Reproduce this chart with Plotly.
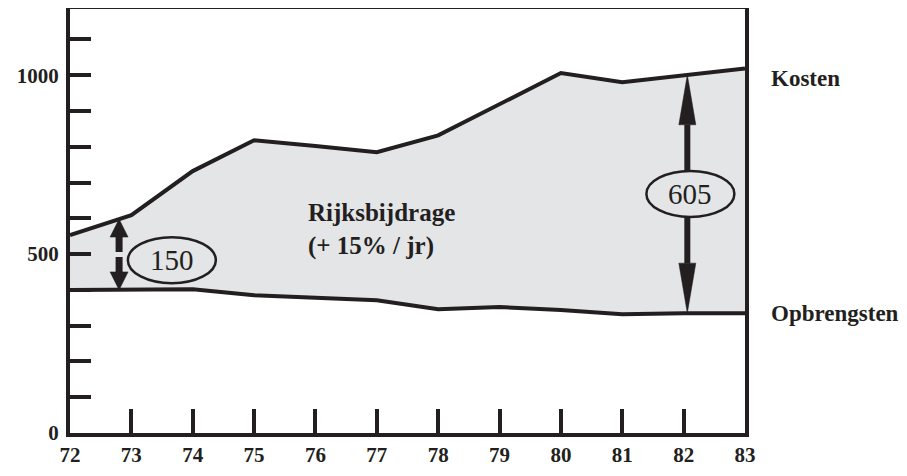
import plotly.graph_objects as go

# ---- data ----
years = [72, 73, 74, 75, 76, 77, 78, 79, 80, 81, 82, 83]
kosten = [553, 609, 732, 818, 802, 785, 832, 920, 1006, 980, 1000, 1019]
opbrengsten = [400, 400, 402, 385, 377, 371, 346, 352, 344, 332, 335, 335]
x_tick_labels = ["72", "73", "74", "75", "76", "77", "78", "79", "80", "81", "82", "83"]
y_tick_vals = [0, 100, 200, 300, 400, 500, 600, 700, 800, 900, 1000, 1100]
y_tick_labels = ["0", "", "", "", "", "500", "", "", "", "", "1000", ""]
diff_labels = ["150", "605"]
series_labels = ["Kosten", "Opbrengsten"]
area_label = ["Rijksbijdrage", "(+ 15% / jr)"]

INK = "#231f20"
FILL = "#e4e5e7"
FONT = "Liberation Serif"

OFF = 8  # default page body margin
W, H = 907 - 2 * OFF, 476 - 2 * OFF
PL, PR, PT, PB = 70 - OFF, 745 - OFF, 9 - OFF, 433 - OFF  # plot box in figure px
ML, MR, MT, MB = PL, W - PR, PT, H - PB
XR = [72, 83]
YR = [0, 1185]
px_x = (PR - PL) / (XR[1] - XR[0])
px_y = (PB - PT) / (YR[1] - YR[0])


def interp(xs, ys, x):
    for i in range(len(xs) - 1):
        if xs[i] <= x <= xs[i + 1]:
            t = (x - xs[i]) / (xs[i + 1] - xs[i])
            return ys[i] + t * (ys[i + 1] - ys[i])
    return ys[-1]


fig = go.Figure()
fig.add_trace(go.Scatter(x=years, y=opbrengsten, mode="lines",
                         line=dict(color=INK, width=4), hoverinfo="skip"))
fig.add_trace(go.Scatter(x=years, y=kosten, mode="lines", fill="tonexty",
                         fillcolor=FILL, line=dict(color=INK, width=4),
                         hoverinfo="skip"))

shapes = []


def head(x, ytip, direction, hw_px, hh_px):
    dx = hw_px / 2 / px_x
    dy = hh_px / px_y * direction
    base = ytip - dy
    return dict(type="path", path=f"M {x-dx} {base} L {x} {ytip} L {x+dx} {base} Z",
                fillcolor=INK, line=dict(color=INK, width=0.5), layer="above")


def shaft(x, y0, y1, w):
    return dict(type="line", x0=x, x1=x, y0=y0, y1=y1,
                line=dict(color=INK, width=w), layer="above")


# arrow at ~73 (150)
ax1 = 72.8
top1 = interp(years, kosten, ax1)
bot1 = interp(years, opbrengsten, ax1)
mid1 = (top1 + bot1) / 2
gap = 2.5 / px_y
hh1 = 18
shapes.append(shaft(ax1, top1 - hh1 / px_y + 1, mid1 + gap, 7))
shapes.append(shaft(ax1, mid1 - gap, bot1 + hh1 / px_y - 1, 7))
shapes.append(head(ax1, top1, 1, 18, hh1))
shapes.append(head(ax1, bot1, -1, 18, hh1))

# arrow at ~82 (605)
ax2 = 82.06
top2 = interp(years, kosten, ax2)
bot2 = interp(years, opbrengsten, ax2)
mid2 = (top2 + bot2) / 2
hh2 = 50
shapes.append(shaft(ax2, top2 - hh2 / px_y + 1, bot2 + hh2 / px_y - 1, 6))
shapes.append(head(ax2, top2, 1, 17, hh2))
shapes.append(head(ax2, bot2, -1, 17, hh2))


def ellipse(x, y):
    return dict(type="circle", xref="x", yref="y", xsizemode="pixel", ysizemode="pixel",
                xanchor=x, yanchor=y, x0=-44, x1=44, y0=-23, y1=23,
                fillcolor=FILL, line=dict(color=INK, width=2.5), layer="above")


e1 = (73.66, 483)
e2 = (ax2 + 0.05, mid2)
shapes.append(ellipse(*e1))
shapes.append(ellipse(*e2))


def paper_x(sx):
    return (sx - OFF - PL) / (PR - PL)


def paper_y(sy):
    return (PB - (sy - OFF)) / (PB - PT)


annotations = [
    dict(x=e1[0], y=e1[1], text=diff_labels[0], showarrow=False,
         font=dict(family=FONT, size=29, color=INK)),
    dict(x=e2[0], y=e2[1], text=diff_labels[1], showarrow=False,
         font=dict(family=FONT, size=29, color=INK)),
    dict(x=years[-1], y=kosten[-1], text="<b>" + series_labels[0] + "</b>", showarrow=False,
         xanchor="left", yanchor="middle", xshift=24, yshift=-10,
         font=dict(family=FONT, size=23, color=INK)),
    dict(x=years[-1], y=opbrengsten[-1], text="<b>" + series_labels[1] + "</b>", showarrow=False,
         xanchor="left", yanchor="middle", xshift=24, yshift=0,
         font=dict(family=FONT, size=23, color=INK)),
    dict(xref="paper", yref="paper", x=paper_x(306), y=paper_y(212),
         text="<b>" + area_label[0] + "</b>", showarrow=False, xanchor="left", yanchor="middle",
         font=dict(family=FONT, size=25, color=INK)),
    dict(xref="paper", yref="paper", x=paper_x(306), y=paper_y(246),
         text="<b>" + area_label[1] + "</b>", showarrow=False, xanchor="left", yanchor="middle",
         font=dict(family=FONT, size=25, color=INK)),
]

tickfont = dict(family=FONT, size=21, color=INK, weight="bold")

fig.update_layout(
    template="none",
    width=W, height=H,
    margin=dict(l=ML, r=MR, t=MT, b=MB, autoexpand=False),
    paper_bgcolor="white", plot_bgcolor="white",
    showlegend=False,
    shapes=shapes,
    annotations=annotations,
    xaxis=dict(range=XR, tickmode="array", tickvals=years, ticktext=x_tick_labels,
               ticks="inside", ticklen=24, tickwidth=4, tickcolor=INK,
               showline=True, linewidth=4, linecolor=INK, mirror=True,
               showgrid=False, zeroline=False, ticklabelstandoff=0, automargin=False,
               tickfont=tickfont),
    yaxis=dict(range=YR, tickmode="array", tickvals=y_tick_vals, ticktext=y_tick_labels,
               ticks="inside", ticklen=21, tickwidth=4, tickcolor=INK,
               showline=True, linewidth=4, linecolor=INK, mirror=True,
               showgrid=False, zeroline=False, ticklabelstandoff=3, automargin=False,
               tickfont=tickfont),
)

fig.write_html("out.html")
